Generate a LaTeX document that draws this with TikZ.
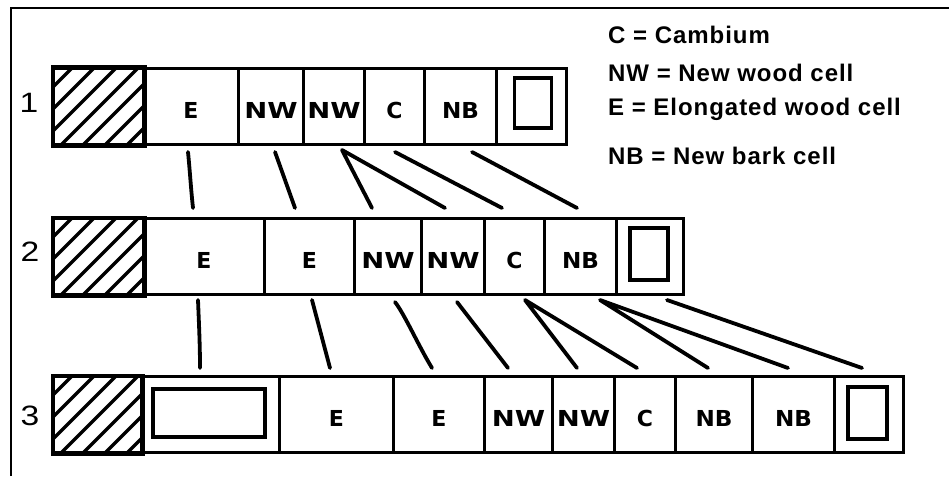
\documentclass[tikz,border=0pt]{standalone}
\usepackage{fontspec}
\setmainfont{Liberation Sans}
\newfontfamily\cellfont{DejaVu Sans}
\newfontfamily\legendfont[LetterSpace=4]{Liberation Sans}
\usetikzlibrary{calc}

% one cell of a strip: name, left x, right x, top y, label
\newcommand\cellat[5]{%
  \node[cell, minimum width={(#3)-(#2)}, anchor=north west] (#1) at (#2,#4) {#5};}
% hatched end cell: name, left x, right x, top y
\newcommand\hatchat[4]{%
  \node[cell, minimum width={(#3)-(#2)}, anchor=north west] (#1) at (#2,#4) {};
  \begin{scope}
    \clip (#1.south west) rectangle (#1.north east);
    \foreach \k in {-4,...,4}
      \draw[hatch] ($(#1.south west)+(\k*22+8,0)$) -- ++(100,-100);
  \end{scope}
  \draw[rim] (#1.south west) rectangle (#1.north east);}

\tikzset{
  cell/.style={draw, line width=3pt, minimum height=76pt, inner sep=0pt,
    text height=24pt, text depth=0pt,
    font=\cellfont\bfseries\fontsize{22}{22}\selectfont},
  rim/.style={line width=3pt},
  hatch/.style={line width=3.4pt},
  innerbox/.style={draw, line width=3.4pt, inner sep=0pt},
  link/.style={line width=3.8pt, line cap=round, line join=round},
  frame/.style={line width=2pt},
  rowlabel/.style={anchor=base, inner sep=0pt, font=\fontsize{28}{28}\selectfont},
  legend/.style={anchor=base west, inner sep=0pt,
    font=\legendfont\bfseries\fontsize{24}{24}\selectfont},
}
\newcommand\wide[2]{\scalebox{#1}[1]{#2}}

\begin{document}
\begin{tikzpicture}[x=1pt,y=-1pt]
\useasboundingbox (0,0) rectangle (949,476);

% outer frame (top and left sides)
\coordinate (fbl) at (11,476);
\coordinate (ftl) at (11,8);
\coordinate (ftr) at (949,8);
\draw[frame] (fbl) -- (ftl) -- (ftr);

% legend
\node[legend] (lgC)  at (608,44)  {C = Cambium};
\node[legend] (lgNW) at (608,82)  {NW = New wood cell};
\node[legend] (lgE)  at (608,116) {E = Elongated wood cell};
\node[legend] (lgNB) at (608,164) {NB = New bark cell};

% ---- strip 1 ----
\node[rowlabel] (n1) at (29,113) {\wide{1.2}{1}};
\hatchat{a0}{52}{142}{67}
\cellat{a1}{142}{237}{67}{E}
\cellat{a2}{237}{302}{67}{\wide{1.25}{NW}}
\cellat{a3}{302}{363}{67}{\wide{1.25}{NW}}
\cellat{a4}{363}{423}{67}{C}
\cellat{a5}{423}{495}{67}{\wide{1.05}{NB}}
\cellat{a6}{495}{565}{67}{}
\node[innerbox, minimum width=37pt, minimum height=50pt] (a6i) at (533,103) {};

% ---- strip 2 ----
\node[rowlabel] (n2) at (30,261) {\wide{1.2}{2}};
\hatchat{b0}{52}{142}{217}
\cellat{b1}{142}{263}{217}{E}
\cellat{b2}{263}{353}{217}{E}
\cellat{b3}{353}{420}{217}{\wide{1.25}{NW}}
\cellat{b4}{420}{483}{217}{\wide{1.25}{NW}}
\cellat{b5}{483}{543}{217}{C}
\cellat{b6}{543}{615}{217}{\wide{1.05}{NB}}
\cellat{b7}{615}{682}{217}{}
\node[innerbox, minimum width=38pt, minimum height=52pt] (b7i) at (649,254) {};

% ---- strip 3 ----
\node[rowlabel] (n3) at (30,425) {\wide{1.2}{3}};
\hatchat{c0}{52}{140}{375}
\cellat{c1}{140}{278}{375}{}
\node[innerbox, minimum width=112pt, minimum height=48pt] (c1i) at (209,413) {};
\cellat{c2}{278}{392}{375}{E}
\cellat{c3}{392}{483}{375}{E}
\cellat{c4}{483}{551}{375}{\wide{1.25}{NW}}
\cellat{c5}{551}{613}{375}{\wide{1.25}{NW}}
\cellat{c6}{613}{674}{375}{C}
\cellat{c7}{674}{751}{375}{\wide{1.05}{NB}}
\cellat{c8}{751}{833}{375}{\wide{1.05}{NB}}
\cellat{c9}{833}{902}{375}{}
\node[innerbox, minimum width=39pt, minimum height=52pt] (c9i) at (867.5,413) {};

% ---- links from strip 1 to strip 2 ----
\coordinate (p1) at (188,152); \coordinate (q1) at (193,208);
\coordinate (p2) at (275,152); \coordinate (q2) at (295,208);
\coordinate (p3) at (342,150); \coordinate (q3) at (372,208); \coordinate (q3b) at (445,208);
\coordinate (p4) at (395,152); \coordinate (q4) at (502,208);
\coordinate (p5) at (472,152); \coordinate (q5) at (577,208);
\draw[link] (p1) .. controls (190,172) and (191,190) .. (q1);
\draw[link] (p2) -- (q2);
\draw[link] (q3) -- (p3) -- (q3b);
\draw[link] (p4) -- (q4);
\draw[link] (p5) -- (q5);

% ---- links from strip 2 to strip 3 ----
\coordinate (r1) at (198,300); \coordinate (s1) at (200,368);
\coordinate (r2) at (312,300); \coordinate (s2) at (330,368);
\coordinate (r3) at (395,302); \coordinate (s3) at (432,368);
\coordinate (r4) at (457,302); \coordinate (s4) at (508,368);
\coordinate (r5) at (525,300); \coordinate (s5) at (577,368); \coordinate (s5b) at (637,368);
\coordinate (r6) at (600,300); \coordinate (s6) at (708,368); \coordinate (s6b) at (788,368);
\coordinate (r7) at (667,300); \coordinate (s7) at (862,368);
\draw[link] (r1) .. controls (199,325) and (200,345) .. (s1);
\draw[link] (r2) -- (s2);
\draw[link] (r3) .. controls (405,315) and (418,345) .. (s3);
\draw[link] (r4) -- (s4);
\draw[link] (s5) -- (r5) -- (s5b);
\draw[link] (s6) -- (r6) -- (s6b);
\draw[link] (r7) -- (s7);
\end{tikzpicture}
\end{document}
